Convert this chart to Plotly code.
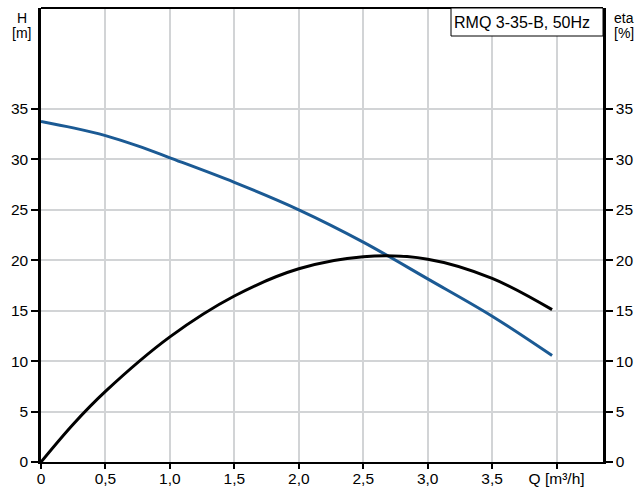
import plotly.graph_objects as go

q_h = [0, 0.25, 0.5, 0.75, 1.0, 1.5, 2.0, 2.5, 3.0, 3.5, 3.965]
head = [33.76, 33.12, 32.35, 31.33, 30.15, 27.72, 25.0, 21.8, 18.15, 14.45, 10.55]
q_eta = [0, 0.25, 0.5, 1.0, 1.5, 2.0, 2.5, 3.0, 3.5, 3.965]
eta = [0, 3.75, 7.0, 12.4, 16.45, 19.15, 20.35, 20.1, 18.2, 15.1]

x_ticks = [0, 0.5, 1.0, 1.5, 2.0, 2.5, 3.0, 3.5, 4.0]
x_labels = ["0", "0,5", "1,0", "1,5", "2,0", "2,5", "3,0", "3,5", "Q [m³/h]"]
y_ticks = [0, 5, 10, 15, 20, 25, 30, 35]
y_labels = ["0", "5", "10", "15", "20", "25", "30", "35"]
title_text = "RMQ 3-35-B, 50Hz"

FONT = "Liberation Sans, Arial, sans-serif"
W, H = 637, 487
ML, MR, MT, MB = 41, 34, 8, 25
PW, PH = W - ML - MR, H - MT - MB


def px_x(px):
    return (px - ML) / PW


def px_y(py):
    return (H - MB - py) / PH


fig = go.Figure()
fig.add_trace(go.Scatter(x=q_h, y=head, mode="lines",
                         line=dict(color="#1b5a94", width=3, shape="spline", smoothing=1.0),
                         showlegend=False, hoverinfo="skip"))
fig.add_trace(go.Scatter(x=q_eta, y=eta, mode="lines", yaxis="y2",
                         line=dict(color="#000000", width=3, shape="spline", smoothing=1.0),
                         showlegend=False, hoverinfo="skip"))

grid = "#d2d4d6"
common_y = dict(range=[0, 45], tickvals=y_ticks, ticktext=y_labels, ticks="outside", ticklen=7, tickwidth=2,
                tickcolor="black", showline=True, linecolor="black", linewidth=2.5, zeroline=False,
                fixedrange=True, tickfont=dict(size=15.5))
fig.update_layout(
    width=W, height=H,
    margin=dict(l=ML, r=MR, t=MT, b=MB, autoexpand=False),
    paper_bgcolor="white", plot_bgcolor="white",
    font=dict(family=FONT, size=15, color="black"),
    xaxis=dict(range=[0, 4.36], tickvals=x_ticks, ticktext=x_labels, showgrid=True, gridcolor=grid, gridwidth=1.5,
               ticks="outside", ticklen=5, tickwidth=2, tickcolor="black", showline=True, linecolor="black",
               linewidth=2, zeroline=False, fixedrange=True, tickfont=dict(size=15.5), ticklabelstandoff=-4),
    yaxis=dict(showgrid=True, gridcolor=grid, gridwidth=1.5, **common_y),
    yaxis2=dict(overlaying="y", side="right", showgrid=False, **common_y),
    shapes=[
        dict(type="line", xref="paper", yref="paper", x0=0, x1=1, y0=1, y1=1, line=dict(color="black", width=2)),
        dict(type="line", xref="x", yref="y", x0=0, x1=4.36, y0=45, y1=45, line=dict(color=grid, width=1.5),
             layer="below"),
        dict(type="rect", xref="paper", yref="paper", x0=px_x(451), x1=1, y0=px_y(36), y1=1,
             line=dict(color="black", width=1), fillcolor="white"),
    ],
    annotations=[
        dict(text="H", xref="paper", yref="paper", x=px_x(21.7), y=px_y(18), xanchor="center", yanchor="middle",
             showarrow=False, font=dict(size=14)),
        dict(text="[m]", xref="paper", yref="paper", x=px_x(21.7), y=px_y(33), xanchor="center", yanchor="middle",
             showarrow=False, font=dict(size=14)),
        dict(text="eta", xref="paper", yref="paper", x=px_x(611.5), y=px_y(18), xanchor="left", yanchor="middle",
             showarrow=False, font=dict(size=14)),
        dict(text="[%]", xref="paper", yref="paper", x=px_x(611.5), y=px_y(33), xanchor="left", yanchor="middle",
             showarrow=False, font=dict(size=14)),
        dict(text=title_text, xref="paper", yref="paper", x=px_x(451.5), y=px_y(22), xanchor="left",
             yanchor="middle", showarrow=False, font=dict(size=16)),
    ],
)

fig.write_html("out.html", config={"displayModeBar": False},
               post_script="document.body.style.margin='0';document.body.style.padding='0';")
